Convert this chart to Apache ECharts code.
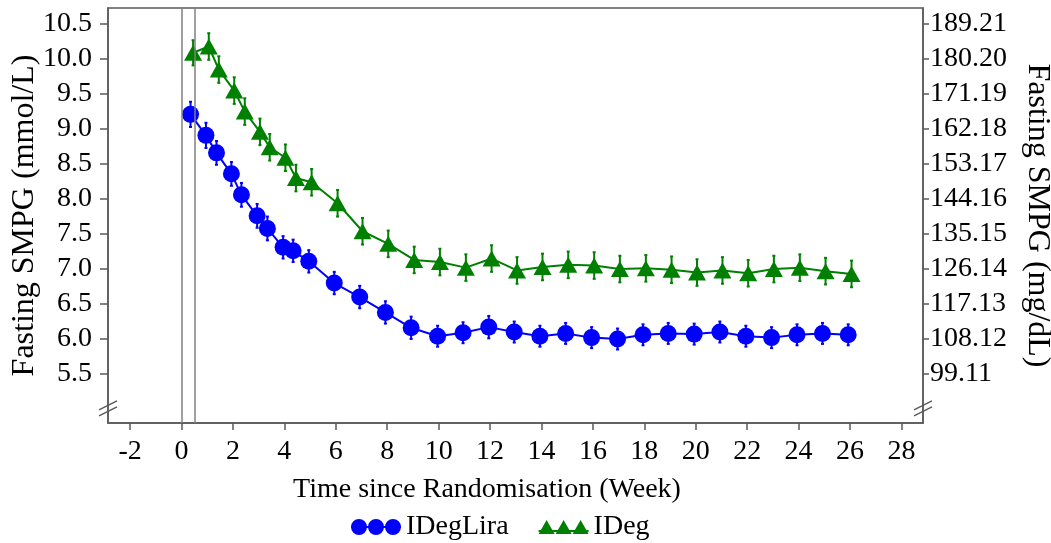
<!DOCTYPE html>
<html>
<head>
<meta charset="utf-8">
<script src="https://cdn.jsdelivr.net/npm/echarts@6/dist/echarts.min.js"></script>
<style>
  html, body { margin: 0; padding: 0; background: #fff; }
  #main { width: 1051px; height: 543px; }
</style>
</head>
<body>
<div id="main"></div>
<script>
// 数据
var blueWeeks = [0.35, 0.95, 1.36, 1.94, 2.33, 2.94, 3.34, 3.95, 4.34, 4.95, 5.94, 6.93, 7.93, 8.93, 9.96, 10.95,
    11.95, 12.94, 13.94, 14.94, 15.95, 16.96, 17.95, 18.93, 19.94, 20.94, 21.95, 22.95, 23.94, 24.93, 25.93];
var blueMean = [9.20, 8.90, 8.65, 8.35, 8.05, 7.75, 7.57, 7.30, 7.25, 7.10, 6.79, 6.59, 6.37, 6.15, 6.03, 6.08,
    6.16, 6.09, 6.03, 6.07, 6.01, 5.99, 6.05, 6.07, 6.06, 6.09, 6.03, 6.01, 6.05, 6.07, 6.05];
var blueSe = [0.18, 0.18, 0.17, 0.17, 0.17, 0.17, 0.17, 0.16, 0.16, 0.16, 0.16, 0.16, 0.16, 0.16, 0.15, 0.15,
    0.16, 0.15, 0.15, 0.15, 0.15, 0.15, 0.15, 0.15, 0.15, 0.15, 0.15, 0.15, 0.15, 0.15, 0.15];

var greenWeeks = [0.45, 1.06, 1.45, 2.05, 2.46, 3.05, 3.43, 4.04, 4.45, 5.06, 6.07, 7.04, 8.04, 9.05, 10.05, 11.06,
    12.06, 13.05, 14.04, 15.04, 16.05, 17.05, 18.06, 19.06, 20.05, 21.04, 22.04, 23.04, 24.05, 25.05, 26.06];
var greenMean = [10.08, 10.17, 9.84, 9.54, 9.24, 8.95, 8.73, 8.58, 8.29, 8.23, 7.93, 7.53, 7.35, 7.12, 7.09, 7.01,
    7.14, 6.97, 7.02, 7.05, 7.04, 6.99, 7.00, 6.98, 6.94, 6.97, 6.93, 6.99, 7.01, 6.96, 6.92];
var greenSe = [0.18, 0.19, 0.19, 0.19, 0.19, 0.19, 0.19, 0.19, 0.19, 0.19, 0.19, 0.19, 0.19, 0.19, 0.19, 0.19,
    0.19, 0.19, 0.19, 0.19, 0.19, 0.19, 0.19, 0.19, 0.19, 0.19, 0.19, 0.19, 0.19, 0.19, 0.19];

var xTicks = [-2, 0, 2, 4, 6, 8, 10, 12, 14, 16, 18, 20, 22, 24, 26, 28];
var leftTicks = [5.5, 6.0, 6.5, 7.0, 7.5, 8.0, 8.5, 9.0, 9.5, 10.0, 10.5];
var rightTicks = [99.11, 108.12, 117.13, 126.14, 135.15, 144.16, 153.17, 162.18, 171.19, 180.20, 189.21];
var refLines = [0, 0.5];

var MG = 18.02;       // mmol/L -> mg/dL
var xMin = -2.86, xMax = 28.84;
var yMin = 4.79, yMax = 10.72;
var axisBreak = 5.0;

var FONT = 'Liberation Serif';
var AXIS_COLOR = '#595959';
var BLUE = '#0000ff', GREEN = '#008000';

function pairs(xs, ys) {
    var out = [];
    for (var i = 0; i < xs.length; i++) out.push([xs[i], ys[i]]);
    return out;
}
function triples(xs, ys, es) {
    var out = [];
    for (var i = 0; i < xs.length; i++) out.push([xs[i], ys[i], es[i]]);
    return out;
}

// 误差线
function errorBar(color) {
    return function (params, api) {
        var x = api.value(0), m = api.value(1), e = api.value(2);
        var hi = api.coord([x, m + e]);
        var lo = api.coord([x, m - e]);
        var style = { stroke: color, lineWidth: 2 };
        return {
            type: 'group',
            children: [
                { type: 'line', shape: { x1: hi[0], y1: hi[1], x2: lo[0], y2: lo[1] }, style: style },
                { type: 'line', shape: { x1: hi[0] - 1.5, y1: hi[1], x2: hi[0] + 1.5, y2: hi[1] }, style: style },
                { type: 'line', shape: { x1: lo[0] - 1.5, y1: lo[1], x2: lo[0] + 1.5, y2: lo[1] }, style: style }
            ]
        };
    };
}

var circleIcon = 'path://M0,8 A8,8 0 1,1 16,8 A8,8 0 1,1 0,8 Z M17,8 A8,8 0 1,1 33,8 A8,8 0 1,1 17,8 Z ' +
    'M34,8 A8,8 0 1,1 50,8 A8,8 0 1,1 34,8 Z M0,7 L50,7 L50,9 L0,9 Z';
var triIcon = 'path://M0,16 L8,2 L16,16 Z M17,16 L25,2 L33,16 Z M34,16 L42,2 L50,16 Z M0,12 L50,12 L50,14 L0,14 Z';

var chart = echarts.init(document.getElementById('main'));

var option = {
    animation: false,
    color: [BLUE, GREEN],
    textStyle: { fontFamily: FONT, color: '#000' },
    grid: {
        left: 108, right: 128, top: 8, bottom: 120,
        containLabel: false, outerBoundsMode: 'none',
        show: true, borderColor: AXIS_COLOR, borderWidth: 1.5
    },
    legend: {
        left: 346, top: 508,
        itemWidth: 50, itemHeight: 16, itemGap: 30,
        textStyle: { fontFamily: FONT, fontSize: 28, color: '#000' },
        data: [
            { name: 'IDegLira', icon: circleIcon, itemStyle: { color: BLUE } },
            { name: 'IDeg', icon: triIcon, itemStyle: { color: GREEN } }
        ]
    },
    xAxis: {
        type: 'value',
        min: xMin, max: xMax,
        splitLine: { show: false },
        axisLine: { onZero: false, lineStyle: { color: AXIS_COLOR, width: 1.5 } },
        axisTick: { length: 7, customValues: xTicks, lineStyle: { color: AXIS_COLOR, width: 1.5 } },
        axisLabel: { customValues: xTicks, fontSize: 28, margin: 15, color: '#000', fontFamily: FONT }
    },
    yAxis: [{
        type: 'value',
        min: yMin, max: yMax,
        splitLine: { show: false },
        name: 'Fasting SMPG (mmol/L)',
        nameLocation: 'middle',
        nameGap: 67,
        nameMoveOverlap: false,
        nameTextStyle: { fontSize: 32, fontFamily: FONT, color: '#000' },
        axisLine: { show: true, onZero: false, lineStyle: { color: AXIS_COLOR, width: 1.5 } },
        axisTick: { show: true, length: 8, customValues: leftTicks, lineStyle: { color: AXIS_COLOR, width: 1.5 } },
        axisLabel: {
            customValues: leftTicks, fontSize: 28, margin: 16, color: '#000', fontFamily: FONT,
            formatter: function (v) { return v.toFixed(1); }
        }
    }, {
        type: 'value',
        position: 'right',
        min: yMin * MG, max: yMax * MG,
        splitLine: { show: false },
        name: 'Fasting SMPG (mg/dL)',
        nameLocation: 'middle',
        nameRotate: -90,
        nameGap: 98,
        nameMoveOverlap: false,
        nameTextStyle: { fontSize: 32, fontFamily: FONT, color: '#000' },
        axisLine: { show: true, onZero: false, lineStyle: { color: AXIS_COLOR, width: 1.5 } },
        axisTick: { show: true, length: 6, customValues: rightTicks, lineStyle: { color: AXIS_COLOR, width: 1.5 } },
        axisLabel: {
            customValues: rightTicks, fontSize: 28, margin: 7, color: '#000', fontFamily: FONT,
            formatter: function (v) { return v.toFixed(2); }
        }
    }],
    series: [{
        type: 'custom',
        name: 'IDegLira',
        renderItem: errorBar(BLUE),
        itemStyle: { color: BLUE },
        data: triples(blueWeeks, blueMean, blueSe),
        encode: { x: 0, y: 1 },
        z: 1
    }, {
        type: 'custom',
        name: 'IDeg',
        renderItem: errorBar(GREEN),
        itemStyle: { color: GREEN },
        data: triples(greenWeeks, greenMean, greenSe),
        encode: { x: 0, y: 1 },
        z: 1
    }, {
        name: 'IDegLira',
        type: 'line',
        data: pairs(blueWeeks, blueMean),
        symbol: 'circle',
        symbolSize: 17,
        itemStyle: { color: BLUE },
        lineStyle: { color: BLUE, width: 2 },
        z: 3,
        markLine: {
            silent: true,
            symbol: 'none',
            label: { show: false },
            lineStyle: { color: '#808080', width: 1.5, type: 'solid' },
            data: refLines.map(function (v) { return { xAxis: v }; })
        }
    }, {
        name: 'IDeg',
        type: 'line',
        data: pairs(greenWeeks, greenMean),
        symbol: 'triangle',
        symbolSize: [18, 16],
        itemStyle: { color: GREEN },
        lineStyle: { color: GREEN, width: 2 },
        z: 2
    }]
};

chart.setOption(option);

// 坐标轴断点 "//" 与 x 轴标题
var pl = chart.convertToPixel({ gridIndex: 0 }, [xMin, axisBreak]);
var pr = chart.convertToPixel({ gridIndex: 0 }, [xMax, axisBreak]);
function breakMarks(p) {
    var s = { stroke: AXIS_COLOR, lineWidth: 1.5 };
    return [
        { type: 'line', shape: { x1: p[0] - 9, y1: p[1] + 1.5, x2: p[0] + 9, y2: p[1] - 7.5 }, style: s },
        { type: 'line', shape: { x1: p[0] - 9, y1: p[1] + 7.5, x2: p[0] + 9, y2: p[1] - 1.5 }, style: s }
    ];
}
chart.setOption({
    graphic: breakMarks(pl).concat(breakMarks(pr)).concat([{
        type: 'text',
        x: 487, y: 490,
        style: {
            text: 'Time since Randomisation (Week)',
            fontFamily: FONT, fontSize: 28, fill: '#000',
            align: 'center', verticalAlign: 'middle'
        }
    }])
});

window.addEventListener('resize', function () {
    chart.resize();
});
</script>
</body>
</html>
